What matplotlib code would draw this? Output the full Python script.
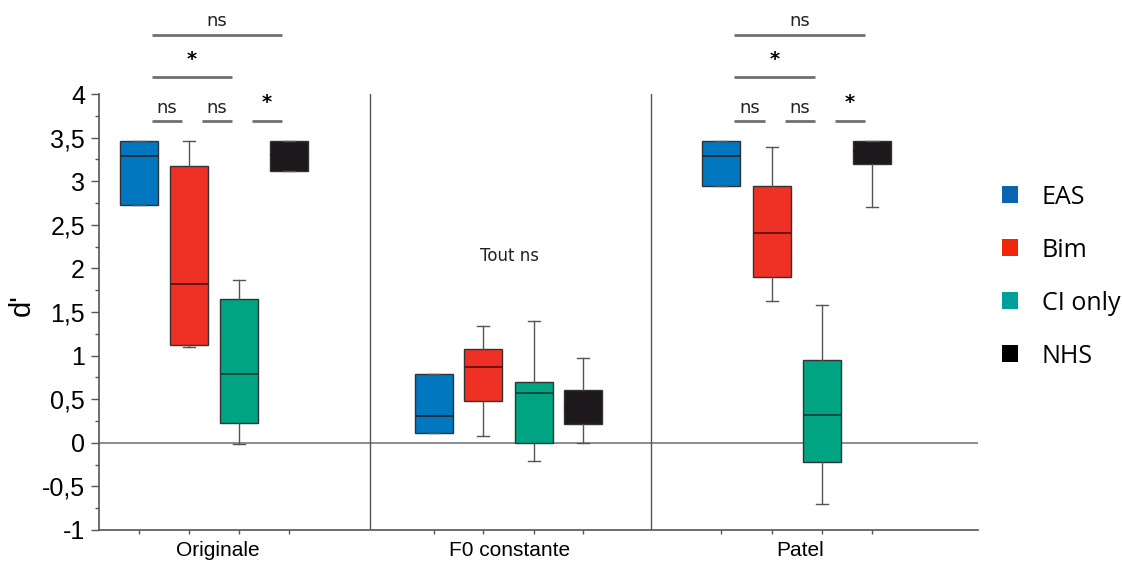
import matplotlib
matplotlib.use("Agg")
import matplotlib.pyplot as plt
from matplotlib.patches import Patch

# groups and series
conditions = ["Originale", "F0 constante", "Patel"]
series = ["EAS", "Bim", "CI only", "NHS"]
box_colors = ["#0077be", "#ee3124", "#00a482", "#1c181c"]
median_colors = ["#1f2f3f", "#6a1410", "#0b4a3c", "#1c181c"]
legend_colors = ["#0a64b0", "#f0280a", "#00a09a", "#000000"]

# box positions (x units, one unit = box spacing)
positions = [
    [0.8, 1.8, 2.8, 3.8],
    [6.7, 7.68, 8.7, 9.68],
    [12.44, 13.46, 14.46, 15.46],
]
cond_label_x = [2.38, 8.22, 14.02]
dividers = [5.42, 11.04]

# box statistics: rows = condition, cols = series
q1 = [[2.73, 1.12, 0.23, 3.12],
      [0.11, 0.48, 0.00, 0.22],
      [2.95, 1.90, -0.22, 3.20]]
med = [[3.29, 1.82, 0.79, 3.30],
       [0.31, 0.87, 0.57, 0.40],
       [3.29, 2.41, 0.32, 3.35]]
q3 = [[3.46, 3.18, 1.65, 3.46],
      [0.79, 1.08, 0.70, 0.60],
      [3.46, 2.95, 0.95, 3.46]]
wlo = [[2.73, 1.10, -0.01, 3.12],
       [0.11, 0.08, -0.21, 0.00],
       [2.95, 1.63, -0.70, 2.70]]
whi = [[3.46, 3.46, 1.87, 3.46],
       [0.79, 1.34, 1.40, 0.97],
       [3.46, 3.39, 1.58, 3.46]]

# significance brackets: (condition, series i, series j, level, label)
sig = [
    (0, 0, 1, 1, "ns"), (0, 1, 2, 1, "ns"), (0, 2, 3, 1, "*"),
    (0, 0, 2, 2, "*"), (0, 0, 3, 3, "ns"),
    (2, 0, 1, 1, "ns"), (2, 1, 2, 1, "ns"), (2, 2, 3, 1, "*"),
    (2, 0, 2, 2, "*"), (2, 0, 3, 3, "ns"),
]
level_y = {1: 3.69, 2: 4.19, 3: 4.68}

plt.rcParams['font.family'] = ['Liberation Sans', 'DejaVu Sans']

fig = plt.figure(figsize=(11.22, 5.64), dpi=100)
ax = fig.add_axes([0.0882, 0.0603, 0.7834, 0.773])

# zero line and group dividers
ax.axhline(0, color="#7a7a7a", lw=1.2, zorder=1)
for d in dividers:
    ax.axvline(d, color="#555555", lw=1.0, zorder=1)

for c in range(len(conditions)):
    for s in range(len(series)):
        stats = [dict(med=med[c][s], q1=q1[c][s], q3=q3[c][s],
                      whislo=wlo[c][s], whishi=whi[c][s], fliers=[])]
        ax.bxp(stats, positions=[positions[c][s]], widths=0.76,
               patch_artist=True, showfliers=False, manage_ticks=False,
               boxprops=dict(facecolor=box_colors[s], edgecolor="#333333", lw=1.0),
               medianprops=dict(color=median_colors[s], lw=1.4),
               whiskerprops=dict(color="#555555", lw=1.0),
               capprops=dict(color="#555555", lw=1.0),
               capwidths=0.24, zorder=3)

for c, i, j, lev, lab in sig:
    x0 = positions[c][i] + 0.26
    x1 = positions[c][j] - 0.14
    y = level_y[lev]
    ax.plot([x0, x1], [y, y], color="#707070", lw=2.0, clip_on=False,
            solid_capstyle="butt")
    if lab == "*":
        ax.text((x0 + x1) / 2, y + 0.1, lab, ha="center", va="bottom",
                fontsize=14, fontweight="bold", family="DejaVu Sans",
                clip_on=False)
    else:
        ax.text((x0 + x1) / 2, y + 0.05, lab, ha="center", va="bottom",
                fontsize=13, family="DejaVu Sans", color="#222222",
                clip_on=False)

ax.text(cond_label_x[1], 2.14, "Tout ns", ha="center", va="center",
        fontsize=12, family="DejaVu Sans", color="#222222")

ax.set_xlim(0, 17.58)
ax.set_ylim(-1, 4)
yt = [-1, -0.5, 0, 0.5, 1, 1.5, 2, 2.5, 3, 3.5, 4]
ax.set_yticks(yt)
ax.set_yticklabels([f"{v:g}".replace(".", ",") for v in yt], fontsize=18)
ax.set_yticks([v + 0.25 for v in yt[:-1]], minor=True)
ax.tick_params(axis="y", which="major", direction="out", length=6, width=1,
               color="#555555", pad=4)
ax.tick_params(axis="y", which="minor", direction="out", length=3, width=1, color="#555555")
ax.set_xticks([p for row in positions for p in row])
ax.set_xticklabels([])
ax.tick_params(axis="x", direction="out", length=3, width=1, color="#555555")
for c, name in enumerate(conditions):
    ax.text(cond_label_x[c], -1.13, name, ha="center", va="top", fontsize=15)

ax.set_ylabel("d'", fontsize=21)
ax.yaxis.set_label_coords(-0.072, 0.516)
ax.spines["top"].set_visible(False)
ax.spines["right"].set_visible(False)
for sp in ["left", "bottom"]:
    ax.spines[sp].set_color("#555555")
    ax.spines[sp].set_linewidth(1.2)

handles = [Patch(facecolor=col, edgecolor="none") for col in legend_colors]
fig.legend(handles, series, loc="upper left", bbox_to_anchor=(0.882, 0.695),
           frameon=False, handlelength=0.64, handleheight=0.64,
           handletextpad=0.95, labelspacing=1.12, borderpad=0,
           prop={"family": "Open Sans", "size": 18})

fig.savefig("out.png", dpi=100)
